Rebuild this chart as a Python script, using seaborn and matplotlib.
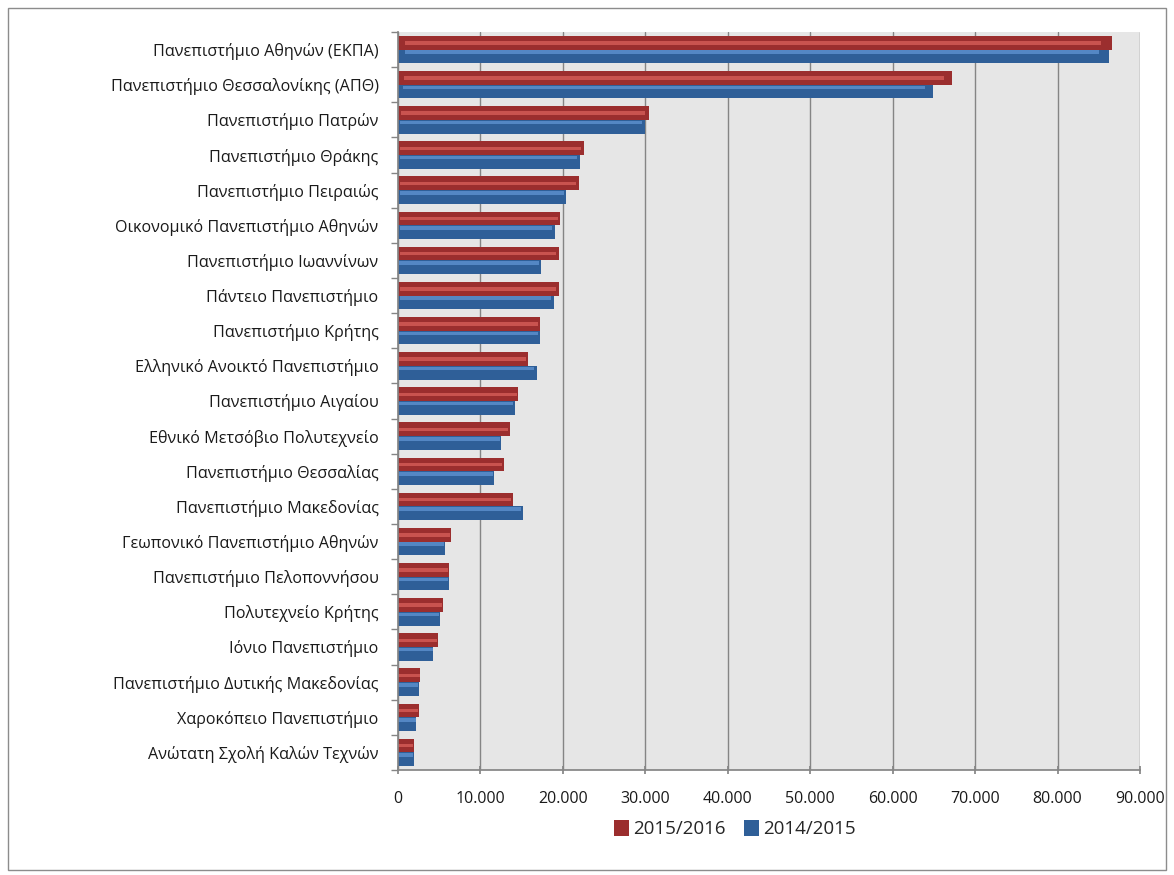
import matplotlib
matplotlib.use("Agg")
import matplotlib.pyplot as plt
import seaborn as sns
import pandas as pd
import numpy as np
from matplotlib.patches import Rectangle
from matplotlib.ticker import FuncFormatter, FixedLocator

universities = [
    "Πανεπιστήμιο Αθηνών (ΕΚΠΑ)",
    "Πανεπιστήμιο Θεσσαλονίκης (ΑΠΘ)",
    "Πανεπιστήμιο Πατρών",
    "Πανεπιστήμιο Θράκης",
    "Πανεπιστήμιο Πειραιώς",
    "Οικονομικό Πανεπιστήμιο Αθηνών",
    "Πανεπιστήμιο Ιωαννίνων",
    "Πάντειο Πανεπιστήμιο",
    "Πανεπιστήμιο Κρήτης",
    "Ελληνικό Ανοικτό Πανεπιστήμιο",
    "Πανεπιστήμιο Αιγαίου",
    "Εθνικό Μετσόβιο Πολυτεχνείο",
    "Πανεπιστήμιο Θεσσαλίας",
    "Πανεπιστήμιο Μακεδονίας",
    "Γεωπονικό Πανεπιστήμιο Αθηνών",
    "Πανεπιστήμιο Πελοποννήσου",
    "Πολυτεχνείο Κρήτης",
    "Ιόνιο Πανεπιστήμιο",
    "Πανεπιστήμιο Δυτικής Μακεδονίας",
    "Χαροκόπειο Πανεπιστήμιο",
    "Ανώτατη Σχολή Καλών Τεχνών",
]
values_2015_2016 = [86600, 67200, 30400, 22500, 21900, 19700, 19500, 19500, 17200, 15800,
                    14600, 13600, 12800, 13900, 6400, 6200, 5400, 4800, 2700, 2500, 1900]
values_2014_2015 = [86300, 64900, 30000, 22100, 20400, 19000, 17400, 18900, 17200, 16800,
                    14200, 12500, 11700, 15200, 5700, 6200, 5100, 4300, 2500, 2200, 1900]
series_names = ["2015/2016", "2014/2015"]
x_ticks = [0, 10000, 20000, 30000, 40000, 50000, 60000, 70000, 80000, 90000]

df = pd.DataFrame({
    "university": universities * 2,
    "students": values_2015_2016 + values_2014_2015,
    "year": [series_names[0]] * len(universities) + [series_names[1]] * len(universities),
})

sns.set_theme(style="white")
plt.rcParams["font.family"] = ["Open Sans", "DejaVu Sans"]

fig = plt.figure(figsize=(11.74, 8.75), dpi=100)
ax = fig.add_axes([398 / 1174, 1 - 770 / 875, (1140 - 398) / 1174, (770 - 32) / 875])

palette = {"2015/2016": "#9b2e2e", "2014/2015": "#2f5f98"}
highlight = {"2015/2016": "#c9534f", "2014/2015": "#5487c4"}
sns.barplot(data=df, y="university", x="students", hue="year", hue_order=series_names,
            order=universities, palette=palette, orient="h", width=0.78, ax=ax,
            saturation=1, linewidth=0, legend=True)

# light highlight stripe inside every bar, derived from the drawn bar geometry
bar_patches = [p for p in ax.patches if p.get_width() > 0]
for p in bar_patches:
    fc = p.get_facecolor()
    is_red = fc[0] > fc[2]
    col = highlight["2015/2016"] if is_red else highlight["2014/2015"]
    h = p.get_height()
    w = p.get_width()
    y0 = p.get_y() + h * (0.38 if is_red else 0.06)
    ax.add_patch(Rectangle((p.get_x() + w * 0.01, y0),
                           w * 0.975, h * 0.26, facecolor=col, edgecolor="none",
                           zorder=p.get_zorder() + 0.1))

ax.set_facecolor("#e6e6e6")
ax.set_xlim(0, 90000)
ax.set_ylim(len(universities) - 0.5, -0.5)
ax.xaxis.set_major_locator(FixedLocator(x_ticks))
ax.xaxis.set_major_formatter(FuncFormatter(lambda v, p: f"{int(v):,}".replace(",", ".")))
ax.grid(axis="x", color="#858585", linewidth=1)
ax.set_axisbelow(True)
ax.set_xlabel("")
ax.set_ylabel("")

for side in ["top", "right"]:
    ax.spines[side].set_visible(False)
ax.spines["left"].set_color("#858585")
ax.spines["bottom"].set_color("#858585")

ax.tick_params(axis="y", which="major", length=0, pad=14, labelsize=11.6, labelcolor="#1a1a1a")
ax.set_yticks(np.arange(len(universities) + 1) - 0.5, minor=True)
ax.tick_params(axis="y", which="minor", length=5, color="#858585", left=True)
ax.tick_params(axis="x", which="major", length=6, color="#858585", bottom=True,
               direction="inout", pad=12, labelsize=11.5, labelcolor="#1a1a1a")

handles, labels = ax.get_legend_handles_labels()
ax.get_legend().remove()
fig.legend(handles, labels, loc="center", bbox_to_anchor=(735 / 1174, 1 - 829 / 875),
           ncol=2, frameon=False, fontsize=13.5, handlelength=0.8, handleheight=1.0,
           handletextpad=0.2, columnspacing=1.0)

fig.patches.append(Rectangle((8 / 1174, 5 / 875), 1 - 16 / 1174, 1 - 13 / 875,
                             transform=fig.transFigure, fill=False,
                             edgecolor="#8c8c8c", linewidth=1))

fig.savefig("out.png", dpi=100)
